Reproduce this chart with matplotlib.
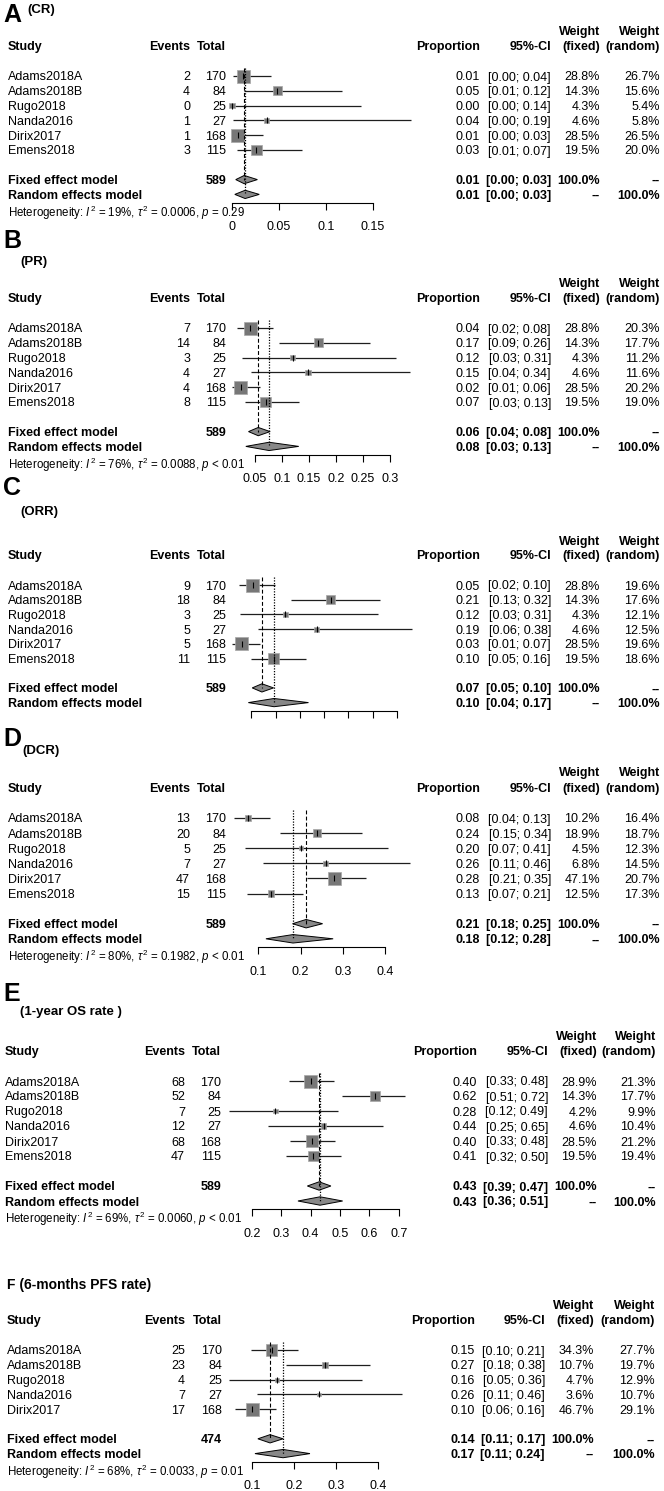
import numpy as np
import matplotlib
matplotlib.use("Agg")
import matplotlib.pyplot as plt
from matplotlib import transforms
from matplotlib.patches import Polygon

plt.rcParams['font.family'] = ['Liberation Sans', 'DejaVu Sans']
plt.rcParams['mathtext.fontset'] = 'custom'
plt.rcParams['mathtext.rm'] = 'Liberation Sans'
plt.rcParams['mathtext.it'] = 'Liberation Sans:italic'
plt.rcParams['mathtext.bf'] = 'Liberation Sans:bold'

W, H = 664, 1491

studies = ["Adams2018A", "Adams2018B", "Rugo2018", "Nanda2016", "Dirix2017", "Emens2018"]
totals = [170, 84, 25, 27, 168, 115]

# A - complete response
crEvents = [2, 4, 0, 1, 1, 3]
crProp = [0.012, 0.048, 0.000, 0.037, 0.006, 0.026]
crLower = [0.0014, 0.013, 0.000, 0.0009, 0.0002, 0.0055]
crUpper = [0.042, 0.117, 0.137, 0.190, 0.033, 0.074]
crWFixed = [28.8, 14.3, 4.3, 4.6, 28.5, 19.5]
crWRandom = [26.7, 15.6, 5.4, 5.8, 26.5, 20.0]
crFixed = [0.013, 0.004, 0.027]
crRandom = [0.014, 0.003, 0.029]
crHet = ["19%", "0.0006", "= 0.29"]

# B - partial response
prEvents = [7, 14, 3, 4, 4, 8]
prProp = [0.041, 0.167, 0.120, 0.148, 0.024, 0.070]
prLower = [0.017, 0.094, 0.026, 0.042, 0.0065, 0.031]
prUpper = [0.083, 0.263, 0.312, 0.337, 0.060, 0.132]
prWFixed = [28.8, 14.3, 4.3, 4.6, 28.5, 19.5]
prWRandom = [20.3, 17.7, 11.2, 11.6, 20.2, 19.0]
prFixed = [0.056, 0.038, 0.078]
prRandom = [0.076, 0.033, 0.131]
prHet = ["76%", "0.0088", "< 0.01"]

# C - objective response rate
orrEvents = [9, 18, 3, 5, 5, 11]
orrProp = [0.053, 0.214, 0.120, 0.1852, 0.030, 0.096]
orrLower = [0.0245, 0.132, 0.026, 0.063, 0.0097, 0.049]
orrUpper = [0.098, 0.316, 0.312, 0.381, 0.068, 0.163]
orrWFixed = [28.8, 14.3, 4.3, 4.6, 28.5, 19.5]
orrWRandom = [19.6, 17.6, 12.1, 12.5, 19.6, 18.6]
orrFixed = [0.072, 0.052, 0.096]
orrRandom = [0.097, 0.044, 0.168]

# D - disease control rate
dcrEvents = [13, 20, 5, 7, 47, 15]
dcrProp = [0.076, 0.238, 0.200, 0.259, 0.280, 0.130]
dcrLower = [0.0415, 0.152, 0.068, 0.111, 0.214, 0.074]
dcrUpper = [0.127, 0.344, 0.407, 0.458, 0.354, 0.206]
dcrWFixed = [10.2, 18.9, 4.5, 6.8, 47.1, 12.5]
dcrWRandom = [16.4, 18.7, 12.3, 14.5, 20.7, 17.3]
dcrFixed = [0.213, 0.181, 0.252]
dcrRandom = [0.182, 0.118, 0.277]
dcrHet = ["80%", "0.1982", "< 0.01"]

# E - 1-year OS rate
osEvents = [68, 52, 7, 12, 68, 47]
osProp = [0.400, 0.619, 0.280, 0.444, 0.4048, 0.409]
osLower = [0.326, 0.507, 0.121, 0.254, 0.330, 0.318]
osUpper = [0.478, 0.721, 0.494, 0.647, 0.483, 0.503]
osWFixed = [28.9, 14.3, 4.2, 4.6, 28.5, 19.5]
osWRandom = [21.3, 17.7, 9.9, 10.4, 21.2, 19.4]
osFixed = [0.429, 0.389, 0.469]
osRandom = [0.432, 0.357, 0.509]
osHet = ["69%", "0.0060", "< 0.01"]

# F - 6-months PFS rate
pfsStudies = ["Adams2018A", "Adams2018B", "Rugo2018", "Nanda2016", "Dirix2017"]
pfsTotals = [170, 84, 25, 27, 168]
pfsEvents = [25, 23, 4, 7, 17]
pfsProp = [0.147, 0.274, 0.160, 0.259, 0.101]
pfsLower = [0.098, 0.182, 0.046, 0.111, 0.060]
pfsUpper = [0.209, 0.382, 0.361, 0.458, 0.157]
pfsWFixed = [34.3, 10.7, 4.7, 3.6, 46.7]
pfsWRandom = [27.7, 19.7, 12.9, 10.7, 29.1]
pfsFixed = [0.143, 0.114, 0.174]
pfsRandom = [0.174, 0.107, 0.238]
pfsHet = ["68%", "0.0033", "= 0.01"]

colsAD = (8, 190, 226, 480, 551, 600, 660)
colsE = (5, 185, 221, 477, 548, 597, 656)
colsF = (7, 185, 222, 475, 545, 594, 655)


def figText(fig, x, y, s, **kw):
    fig.text(x / W, 1 - y / H, s, ha='left', va='center', **kw)


def drawForest(fig, names, events, tot, prop, lower, upper, wFixed, wRandom,
               fixed, random, het, y0, dy, zeroPx, ppu, ticks, cols, tickLabels=True):
    n = len(names)
    top, bottom = -0.6, n + 2.55
    xa, xb = 226, 432
    axTop = y0 + top * dy
    axBottom = y0 + bottom * dy
    ax = fig.add_axes([xa / W, 1 - axBottom / H, (xb - xa) / W, (axBottom - axTop) / H])
    ax.set_xlim((xa - zeroPx) / ppu, (xb - zeroPx) / ppu)
    ax.set_ylim(bottom, top)
    ax.patch.set_visible(False)
    for side in ['left', 'right', 'top']:
        ax.spines[side].set_visible(False)
    ax.spines['bottom'].set_bounds(ticks[0], ticks[-1])
    ax.spines['bottom'].set_linewidth(0.8)
    ax.set_yticks([])
    ax.set_xticks(ticks)
    if tickLabels:
        ax.set_xticklabels(['%g' % t for t in ticks])
    else:
        ax.set_xticklabels([])
    ax.tick_params(axis='x', length=5, width=0.8, labelsize=9, pad=8.5)

    rows = np.arange(n)
    wf = np.array(wFixed)
    side = 13 * np.sqrt(wf / wf.max()) * 0.72
    ax.hlines(rows, lower, upper, colors='#1e1e1e', lw=0.9, zorder=2, clip_on=False)
    ax.scatter(prop, rows, s=side ** 2, marker='s', color='#777777',
               edgecolors='#a8a8a8', linewidths=0.5, zorder=3, clip_on=False)
    ax.scatter(prop, rows, s=14, marker='|', color='black', linewidths=0.8,
               zorder=4, clip_on=False)
    for row, (est, lo, hi) in [(n + 1, fixed), (n + 2, random)]:
        ax.add_patch(Polygon([[lo, row], [est, row - 0.28], [hi, row], [est, row + 0.28]],
                             closed=True, fc='#888888', ec='black', lw=0.7,
                             zorder=3, clip_on=False))
    ax.vlines(fixed[0], -0.55, n + 1, colors='black', linestyles=(0, (3.5, 2)),
              lw=0.8, zorder=5)
    ax.vlines(random[0], -0.55, n + 2, colors='black', linestyles=(0, (1, 1.2)),
              lw=0.9, zorder=5)

    tr = transforms.blended_transform_factory(
        transforms.Affine2D().scale(1 / W, 1) + fig.transFigure, ax.transData)
    studyX, eventsR, totalR, propR, ciR, wfR, wrR = cols
    fs = 9

    def put(x, y, s, ha='right', bold=False, size=fs):
        ax.text(x, y, s, transform=tr, ha=ha, va='center_baseline', fontsize=size,
                fontweight='bold' if bold else 'normal', clip_on=False)

    hRow = -2.05
    put(studyX, hRow, "Study", ha='left', bold=True)
    put(eventsR, hRow, "Events", bold=True)
    put(totalR, hRow, "Total", bold=True)
    put(propR, hRow, "Proportion", bold=True)
    put(ciR, hRow, "95%-CI", bold=True)
    put(wfR, hRow - 1.0, "Weight", bold=True)
    put(wrR, hRow - 1.0, "Weight", bold=True)
    put(wfR, hRow, "(fixed)", bold=True)
    put(wrR, hRow, "(random)", bold=True)

    for i in range(n):
        put(studyX, i, names[i], ha='left')
        put(eventsR, i, str(events[i]))
        put(totalR, i, str(tot[i]))
        put(propR, i, '%.2f' % prop[i])
        put(ciR, i, '[%.2f; %.2f]' % (lower[i], upper[i]))
        put(wfR, i, '%.1f%%' % wFixed[i])
        put(wrR, i, '%.1f%%' % wRandom[i])

    put(studyX, n + 1, "Fixed effect model", ha='left', bold=True)
    put(totalR, n + 1, str(sum(tot)), bold=True)
    put(propR, n + 1, '%.2f' % fixed[0], bold=True)
    put(ciR, n + 1, '[%.2f; %.2f]' % (fixed[1], fixed[2]), bold=True)
    put(wfR, n + 1, "100.0%", bold=True)
    put(wrR, n + 1, "--", bold=True)
    put(studyX, n + 2, "Random effects model", ha='left', bold=True)
    put(propR, n + 2, '%.2f' % random[0], bold=True)
    put(ciR, n + 2, '[%.2f; %.2f]' % (random[1], random[2]), bold=True)
    put(wfR, n + 2, "--", bold=True)
    put(wrR, n + 2, "100.0%", bold=True)
    if het is not None:
        put(studyX, n + 3.05,
            r"Heterogeneity: $I^2$ = %s, $\tau^2$ = %s, $p$ %s" % tuple(het),
            ha='left', size=8.3)
    return ax


fig = plt.figure(figsize=(W / 100, H / 100), dpi=100)

drawForest(fig, studies, crEvents, totals, crProp, crLower, crUpper, crWFixed, crWRandom,
           crFixed, crRandom, crHet, 76, 14.8, 232, 940, [0, 0.05, 0.1, 0.15], colsAD)
drawForest(fig, studies, prEvents, totals, prProp, prLower, prUpper, prWFixed, prWRandom,
           prFixed, prRandom, prHet, 328, 14.8, 228, 540,
           [0.05, 0.1, 0.15, 0.2, 0.25, 0.3], colsAD)
drawForest(fig, studies, orrEvents, totals, orrProp, orrLower, orrUpper, orrWFixed, orrWRandom,
           orrFixed, orrRandom, None, 585, 14.7, 227, 485,
           [0.05, 0.1, 0.15, 0.2, 0.25, 0.3, 0.35], colsAD, tickLabels=False)
drawForest(fig, studies, dcrEvents, totals, dcrProp, dcrLower, dcrUpper, dcrWFixed, dcrWRandom,
           dcrFixed, dcrRandom, dcrHet, 818, 15.1, 216, 423, [0.1, 0.2, 0.3, 0.4], colsAD)
drawForest(fig, studies, osEvents, totals, osProp, osLower, osUpper, osWFixed, osWRandom,
           osFixed, osRandom, osHet, 1081, 15.0, 193, 294,
           [0.2, 0.3, 0.4, 0.5, 0.6, 0.7], colsE)
drawForest(fig, pfsStudies, pfsEvents, pfsTotals, pfsProp, pfsLower, pfsUpper, pfsWFixed,
           pfsWRandom, pfsFixed, pfsRandom, pfsHet, 1350, 14.8, 210, 420,
           [0.1, 0.2, 0.3, 0.4], colsF)

letterKw = dict(fontsize=18, fontweight='bold')
subKw = dict(fontsize=9.5, fontweight='bold')
figText(fig, 3, 15, "A", **letterKw)
figText(fig, 27, 10, "(CR)", **subKw)
figText(fig, 3, 241, "B", **letterKw)
figText(fig, 20, 262, "(PR)", **subKw)
figText(fig, 3, 488, "C", **letterKw)
figText(fig, 20, 512, "(ORR)", **subKw)
figText(fig, 3, 739, "D", **letterKw)
figText(fig, 22, 751, "(DCR)", **subKw)
figText(fig, 3, 994, "E", **letterKw)
figText(fig, 20, 1012, "(1-year OS rate )", **subKw)
figText(fig, 7, 1285, "F (6-months PFS rate)", fontsize=10, fontweight='bold')

fig.savefig("out.png", dpi=100)
